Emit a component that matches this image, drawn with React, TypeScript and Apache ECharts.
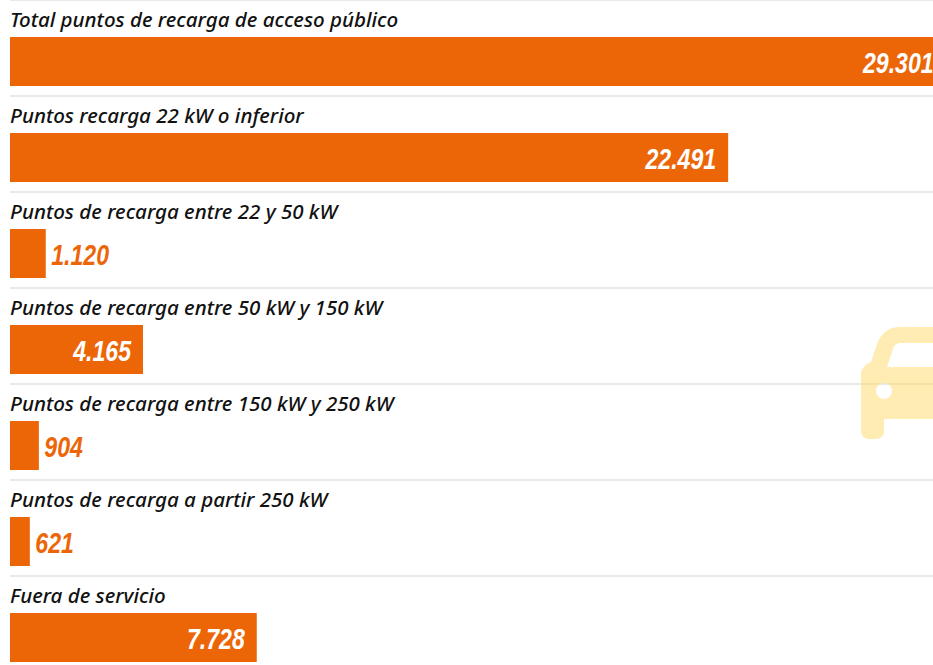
import React, { useEffect, useRef } from "react";
import * as echarts from "echarts";

const categories = [
  "Total puntos de recarga de acceso público",
  "Puntos recarga 22 kW o inferior",
  "Puntos de recarga entre 22 y 50 kW",
  "Puntos de recarga entre 50 kW y 150 kW",
  "Puntos de recarga entre 150 kW y 250 kW",
  "Puntos de recarga a partir 250 kW",
  "Fuera de servicio",
];
const values = [29301, 22491, 1120, 4165, 904, 621, 7728];
const valueLabels = ["29.301", "22.491", "1.120", "4.165", "904", "621", "7.728"];

const ORANGE = "#ec6608";
const SHIFT = 40;

const carPath =
  "M 940 327 L 900 327 C 889 327 881 333 877 344 L 871 362 C 865 364 861 369 861 375 L 861 431 C 861 436 865 439 869 439 L 876 439 C 881 439 884 436 884 431 L 884 419 L 940 419 L 940 367 L 887 367 L 893 349 C 894 345 897 343 901 343 L 940 343 Z M 876 391 A 8 8 0 1 1 892 391 A 8 8 0 1 1 876 391 Z";
echarts.graphic.registerShape("car", echarts.graphic.extendPath(carPath as any, {} as any));

export default function App() {
  const ref = useRef<HTMLDivElement>(null);
  useEffect(() => {
    const chart = echarts.init(ref.current!, undefined, { renderer: "svg" });
    const maxValue = Math.max(...values);
    const hiddenCategoryAxis = {
      type: "category",
      inverse: true,
      data: categories,
      axisLine: { show: false },
      axisTick: { show: false },
    };
    chart.setOption({
      animation: false,
      backgroundColor: "#ffffff",
      grid: [
        { left: 10, width: 935.6, top: SHIFT + 13.5, height: 672 },
        { left: 10, width: 923, top: SHIFT - 0.2, height: 672 },
        { left: 10, width: 923, top: SHIFT - 29, height: 672 },
      ],
      xAxis: [0, 1, 2].map((g) => ({ gridIndex: g, type: "value", min: 0, max: maxValue, show: false })),
      yAxis: [
        { ...hiddenCategoryAxis, gridIndex: 0, axisLabel: { show: false }, splitLine: { show: false } },
        {
          ...hiddenCategoryAxis,
          gridIndex: 1,
          axisLabel: { show: false },
          splitLine: { show: true, interval: 0, lineStyle: { color: "#e4e4de", width: 1.5 } },
        },
        {
          ...hiddenCategoryAxis,
          gridIndex: 2,
          splitLine: { show: false },
          axisLabel: {
            inside: true,
            margin: 0,
            align: "left",
            verticalAlign: "middle",
            interval: 0,
            color: "#111111",
            fontFamily: "'Noto Sans', sans-serif",
            fontStyle: "italic",
            fontWeight: 500,
            fontSize: 20.5,
          },
        },
      ],
      series: [
        {
          type: "bar",
          xAxisIndex: 0,
          yAxisIndex: 0,
          barWidth: 49,
          itemStyle: { color: ORANGE },
          data: values,
        },
        {
          type: "custom",
          xAxisIndex: 0,
          yAxisIndex: 0,
          z: 5,
          silent: true,
          encode: { x: 0, y: 1 },
          data: values.map((v, i) => [v, i]),
          renderItem: (params: any, api: any) => {
            const v = api.value(0);
            const p = api.coord([v, api.value(1)]);
            const outside = v < 2000;
            return {
              type: "text",
              x: p[0] + (outside ? 5.5 : -12),
              y: p[1] + 1.5,
              scaleX: 0.77,
              style: {
                text: valueLabels[params.dataIndex],
                fill: outside ? ORANGE : "#ffffff",
                fontFamily: "'Liberation Sans', sans-serif",
                fontStyle: "italic",
                fontWeight: "bold",
                fontSize: 30,
                align: outside ? "left" : "right",
                verticalAlign: "middle",
              },
            };
          },
        },
      ],
      graphic: [
        {
          type: "car",
          x: 0,
          y: SHIFT,
          z: 100,
          silent: true,
          style: { fill: "rgba(255, 214, 90, 0.46)" },
        },
      ],
    });
    return () => chart.dispose();
  }, []);
  return (
    <div style={{ position: "fixed", left: 0, top: 0, width: 933, height: 665, overflow: "hidden" }}>
      <div ref={ref} style={{ position: "absolute", left: 0, top: -SHIFT, width: 980, height: 760 }} />
    </div>
  );
}
